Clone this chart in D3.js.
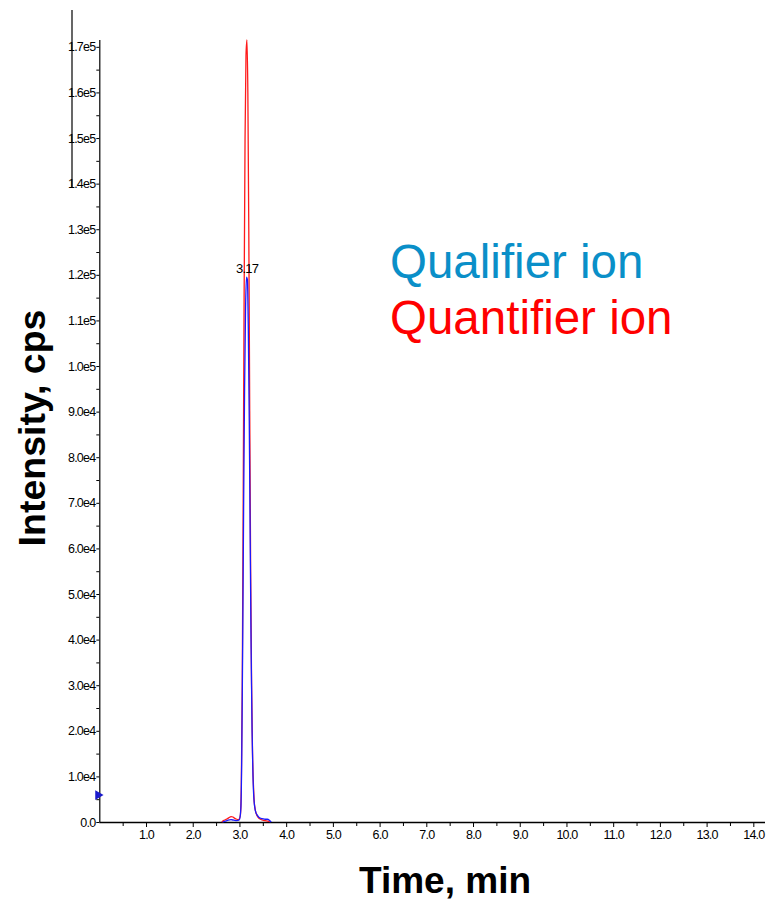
<!DOCTYPE html>
<html>
<head>
<meta charset="utf-8">
<script src="https://cdn.jsdelivr.net/npm/d3@7/dist/d3.min.js"></script>
<style>
  body { margin: 0; background: #fff; }
  svg { display: block; }
  .tick text { font-family: "Liberation Sans Narrow", "Arial Narrow", sans-serif; font-size: 12.5px; letter-spacing: -0.8px; fill: #000; }
</style>
</head>
<body>
<div id="chart"></div>
<script>
// Quantifier ion trace (red), time in min / intensity in cps
var quantTime = [2.62, 2.66, 2.70, 2.74, 2.78, 2.82, 2.86, 2.90, 2.94, 2.98, 3.02, 3.04, 3.06, 3.08, 3.10, 3.12, 3.14, 3.16, 3.18, 3.20, 3.22, 3.24, 3.26, 3.28, 3.30, 3.32, 3.36, 3.40, 3.45, 3.50, 3.55, 3.60, 3.65];
var quantInt  = [0, 300, 500, 700, 1000, 1200, 1100, 800, 600, 500, 1500, 8000, 30000, 70000, 115000, 150000, 168000, 171500, 160000, 130000, 90000, 55000, 30000, 15000, 8000, 4000, 1800, 1000, 600, 400, 300, 200, 100];

// Qualifier ion trace (blue)
var qualTime = [2.64, 2.70, 2.76, 2.82, 2.88, 2.94, 3.00, 3.03, 3.05, 3.07, 3.09, 3.11, 3.13, 3.15, 3.17, 3.19, 3.21, 3.23, 3.25, 3.27, 3.29, 3.31, 3.34, 3.38, 3.42, 3.46, 3.50, 3.55, 3.60, 3.64, 3.68];
var qualInt  = [0, 200, 400, 500, 400, 300, 500, 3000, 15000, 40000, 70000, 95000, 112000, 119500, 119000, 108000, 88000, 62000, 38000, 20000, 10000, 5000, 2500, 1500, 1000, 800, 700, 600, 600, 400, 0];

var xTicks = [1, 2, 3, 4, 5, 6, 7, 8, 9, 10, 11, 12, 13, 14];
var yTicks = [0, 10000, 20000, 30000, 40000, 50000, 60000, 70000, 80000, 90000, 100000, 110000, 120000, 130000, 140000, 150000, 160000, 170000];
var peakLabel = "3.17", peakTime = 3.165, peakInt = 119500;

var width = 768, height = 901;
var svg = d3.select("#chart").append("svg").attr("width", width).attr("height", height);

var x = d3.scaleLinear().domain([0, 14.25]).range([99.3, 765]);
var y = d3.scaleLinear().domain([0, 171500]).range([822, 40]);

function fmtY(d) {
  if (d == 0) return "0.0";
  var e = Math.floor(Math.log10(d));
  return (d / Math.pow(10, e)).toFixed(1) + "e" + e;
}

// minor ticks
svg.append("g").attr("transform", "translate(0,822)")
  .call(d3.axisBottom(x).tickValues(d3.range(0.5, 14.3, 1)).tickSize(4).tickFormat(""))
  .call(function(g) { g.select(".domain").remove(); });
svg.append("g").attr("transform", "translate(99.3,0)")
  .call(d3.axisLeft(y).tickValues(d3.range(5000, 171000, 10000)).tickSize(3).tickFormat(""))
  .call(function(g) { g.select(".domain").remove(); });

// x axis
var gx = svg.append("g").attr("transform", "translate(0,822)")
  .call(d3.axisBottom(x).tickValues(xTicks).tickSize(5).tickPadding(3).tickFormat(function(d) { return d.toFixed(1); }));
gx.select(".domain").attr("d", "M99.3,0.5H765").attr("stroke-width", 1.5);

// y axis
var gy = svg.append("g").attr("transform", "translate(99.3,0)")
  .call(d3.axisLeft(y).tickValues(yTicks).tickSize(3).tickPadding(1).tickFormat(fmtY));
gy.select(".domain").attr("d", "M0.5,822V40").attr("stroke-width", 1.2);

// stray vertical line at the top left
svg.append("line").attr("x1", 72).attr("x2", 72).attr("y1", 10).attr("y2", 187)
  .attr("stroke", "#000").attr("stroke-width", 1.2);

var line = d3.line().x(function(d) { return x(d[0]); }).y(function(d) { return y(d[1]); }).curve(d3.curveMonotoneX);

svg.append("path").datum(d3.zip(quantTime, quantInt))
  .attr("d", line).attr("fill", "none").attr("stroke", "#ff1a1a").attr("stroke-width", 1.3);
svg.append("path").datum(d3.zip(qualTime, qualInt))
  .attr("d", line).attr("fill", "none").attr("stroke", "#1a1aff").attr("stroke-width", 1.3);

// small marker on the y axis
svg.append("path").attr("d", d3.symbol(d3.symbolTriangle, 40)())
  .attr("transform", "translate(98," + y(5900) + ") rotate(90)").attr("fill", "#1a1acc");

// apex label
svg.append("text").attr("x", x(peakTime)).attr("y", y(peakInt) - 4)
  .attr("text-anchor", "middle").style("font-family", "'Liberation Sans Narrow', sans-serif")
  .style("font-size", "13px").style("letter-spacing", "-0.8px").text(peakLabel);

// legend
svg.append("text").attr("x", 390).attr("y", 278).style("font-family", "'Liberation Sans', Arial, sans-serif")
  .style("font-size", "47.5px").attr("fill", "#0a8fc8").text("Qualifier ion");
svg.append("text").attr("x", 390).attr("y", 334).style("font-family", "'Liberation Sans', Arial, sans-serif")
  .style("font-size", "47.5px").attr("fill", "#ff0000").text("Quantifier ion");

// axis titles
svg.append("text").attr("x", 445).attr("y", 893).attr("text-anchor", "middle")
  .style("font-family", "'Liberation Sans', Arial, sans-serif").style("font-weight", "bold")
  .style("font-size", "37px").text("Time, min");
svg.append("text").attr("transform", "translate(45,428) rotate(-90)").attr("text-anchor", "middle")
  .style("font-family", "'Liberation Sans', Arial, sans-serif").style("font-weight", "bold")
  .style("font-size", "37.5px").text("Intensity, cps");
</script>
</body>
</html>
